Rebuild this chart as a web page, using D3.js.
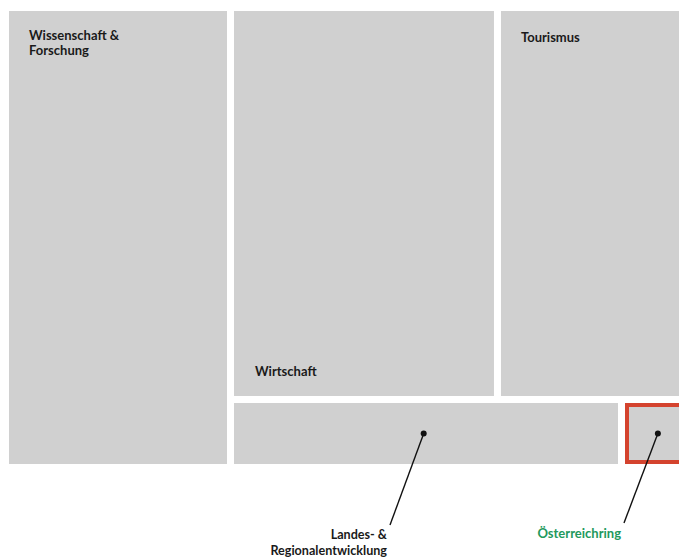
<!DOCTYPE html>
<html>
<head>
<meta charset="utf-8">
<script src="https://cdn.jsdelivr.net/npm/d3@7"></script>
<style>
  html, body { margin: 0; padding: 0; background: #ffffff; }
  svg { display: block; }
  text { font-family: Lato, "Open Sans", sans-serif; font-weight: bold; }
</style>
</head>
<body>
<div id="chart"></div>
<script>
// Data (estimated relative sizes)
const groups = ["Wissenschaft & Forschung", "Rest"];
const wissenschaftValue = 225;
const topCategories = ["Wirtschaft", "Tourismus"];
const topValues = [227.5, 164.5];
const bottomCategories = ["Landes- & Regionalentwicklung", "Österreichring"];
const bottomValues = [57.8, 10.2];

const width = 679, height = 557;
const margin = { left: 9, top: 11 };
const tmWidth = 678, tmHeight = 453;

const data = {
  name: "root",
  children: [
    { name: "Wissenschaft & Forschung", value: wissenschaftValue },
    { name: "Rest", children: [
      { name: "Top", children: topCategories.map((c, i) => ({ name: c, value: topValues[i] })) },
      { name: "Bottom", children: bottomCategories.map((c, i) => ({ name: c, value: bottomValues[i] })) }
    ]}
  ]
};

const root = d3.hierarchy(data).sum(d => d.value || 0);
d3.treemap().tile(d3.treemapSliceDice).size([tmWidth, tmHeight]).paddingInner(7)(root);

const svg = d3.select("#chart").append("svg").attr("width", width).attr("height", height);
const g = svg.append("g").attr("transform", `translate(${margin.left},${margin.top})`);

const leaves = root.leaves();
const byName = {};
leaves.forEach(d => byName[d.data.name] = d);

g.selectAll("rect.cell").data(leaves).join("rect")
  .attr("class", "cell")
  .attr("x", d => d.x0).attr("y", d => d.y0)
  .attr("width", d => d.x1 - d.x0).attr("height", d => d.y1 - d.y0)
  .attr("fill", "#d0d0d0");

// Highlight Österreichring
const oe = byName["Österreichring"];
g.append("rect")
  .attr("x", oe.x0 + 2).attr("y", oe.y0 + 2)
  .attr("width", oe.x1 - oe.x0 - 4).attr("height", oe.y1 - oe.y0 - 4)
  .attr("fill", "none").attr("stroke", "#d4432e").attr("stroke-width", 4);

const fs = 13;
// In-cell labels
function cellLabel(name, lines, dx, dy) {
  const d = byName[name];
  const t = g.append("text").attr("font-size", fs).attr("fill", "#1a1a1a");
  lines.forEach((l, i) => {
    t.append("tspan").attr("x", d.x0 + dx).attr("y", d.y0 + dy + i * 15).text(l);
  });
}
cellLabel("Wissenschaft & Forschung", ["Wissenschaft &", "Forschung"], 20, 29);
cellLabel("Tourismus", ["Tourismus"], 20, 31);
const wi = byName["Wirtschaft"];
g.append("text").attr("font-size", fs).attr("fill", "#1a1a1a")
  .attr("x", wi.x0 + 21).attr("y", wi.y1 - 20).text("Wirtschaft");

const la = byName["Landes- & Regionalentwicklung"];
const laDot = [la.x0 + (la.x1 - la.x0) * 0.494, (la.y0 + la.y1) / 2];
const oeDot = [oe.x0 + (oe.x1 - oe.x0) * 0.53, (oe.y0 + oe.y1) / 2];

function callout(dot, end) {
  g.append("line")
    .attr("x1", dot[0]).attr("y1", dot[1]).attr("x2", end[0]).attr("y2", end[1])
    .attr("stroke", "#111").attr("stroke-width", 1.4);
  g.append("circle").attr("cx", dot[0]).attr("cy", dot[1]).attr("r", 3).attr("fill", "#111");
}
callout(laDot, [381, 514]);
callout(oeDot, [615, 512]);

const lt = g.append("text").attr("font-size", 12.6).attr("fill", "#1a1a1a").attr("text-anchor", "end");
lt.append("tspan").attr("x", 378).attr("y", 528).text("Landes- &");
lt.append("tspan").attr("x", 378).attr("y", 543.5).text("Regionalentwicklung");

g.append("text").attr("font-size", fs).attr("fill", "#22995c").attr("text-anchor", "end")
  .attr("x", 612).attr("y", 527).text("Österreichring");
</script>
</body>
</html>
